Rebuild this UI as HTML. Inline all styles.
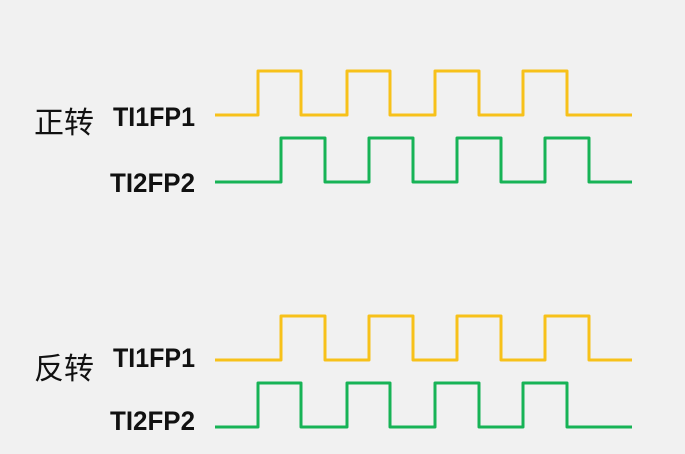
<!DOCTYPE html>
<html><head><meta charset="utf-8"><style>
html,body{margin:0;padding:0;background:#f1f1f1;}
svg{display:block;}
text{font-family:"Liberation Sans","Noto Sans CJK SC",sans-serif;fill:#111;}
</style></head><body>
<svg id="chart" width="685" height="454" viewBox="0 0 685 454">
<rect width="685" height="454" fill="#f1f1f1"/>
<text x="34" y="133" font-size="30" textLength="60">正转</text>
<text x="34" y="379" font-size="30" textLength="60">反转</text>
<text x="113" y="126" font-size="27" font-weight="bold" textLength="82" lengthAdjust="spacingAndGlyphs">TI1FP1</text>
<text x="110" y="192" font-size="27" font-weight="bold" textLength="85" lengthAdjust="spacingAndGlyphs">TI2FP2</text>
<text x="113" y="367" font-size="27" font-weight="bold" textLength="82" lengthAdjust="spacingAndGlyphs">TI1FP1</text>
<text x="110" y="430" font-size="27" font-weight="bold" textLength="85" lengthAdjust="spacingAndGlyphs">TI2FP2</text>
<g id="waves"></g>
</svg>
<script>
// signal edge times (x positions in time units) : rise, fall pairs
const earlyEdges = [258, 301, 347, 390, 435, 479, 523, 567];
const lateEdges = [281, 325, 369, 413, 457, 501, 545, 589];
const signalNames = ["forward-ti1fp1-wave","forward-ti2fp2-wave","reverse-ti1fp1-wave","reverse-ti2fp2-wave"];
const signalEdges = [earlyEdges, lateEdges, lateEdges, earlyEdges];
const lowLevels = [115, 182, 360, 427];
const startX = 215, endX = 632, amp = 44;
const colors = ["#f7c11a","#17b356","#f7c11a","#17b356"];
const g = document.getElementById('waves');
signalEdges.forEach((edges, i) => {
  const lo = lowLevels[i], hi = lo - amp;
  let d = `M${startX},${lo}`;
  edges.forEach((x, k) => {
    const y = k % 2 === 0 ? lo : hi;
    const y2 = k % 2 === 0 ? hi : lo;
    d += ` L${x},${y} L${x},${y2}`;
  });
  d += ` L${endX},${lo}`;
  const p = document.createElementNS('http://www.w3.org/2000/svg','path');
  p.setAttribute('d', d);
  p.setAttribute('fill','none');
  p.setAttribute('stroke', colors[i]);
  p.setAttribute('stroke-width','3');
  p.setAttribute('stroke-linejoin','round');
  
  
  g.appendChild(p);
});
</script>
</body></html>
